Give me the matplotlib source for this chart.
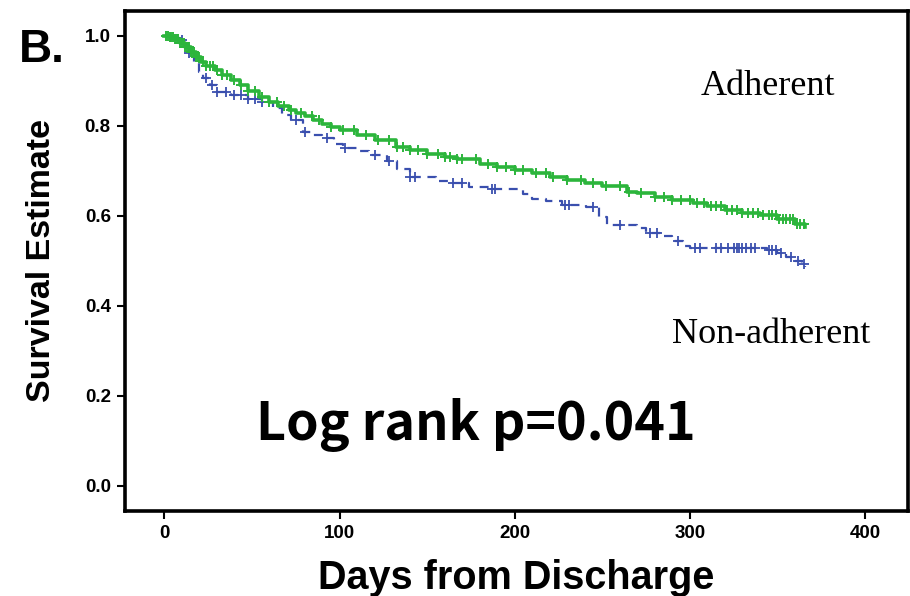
import matplotlib
matplotlib.use("Agg")
import matplotlib.pyplot as plt
import numpy as np

# ---- data ----
adh_t = [0, 3, 6, 9, 12, 15, 18, 21, 24, 29, 33, 38, 43, 48, 54, 60, 65, 71, 75, 80, 85,
         90, 95, 100, 110, 120, 132, 140, 150, 160, 167, 180, 190, 200, 210, 220, 230,
         240, 250, 264, 270, 280, 290, 302, 310, 320, 330, 340, 350, 360, 366]
adh_s = [1.0, 0.998, 0.993, 0.985, 0.975, 0.965, 0.953, 0.943, 0.934, 0.924, 0.913, 0.901,
         0.890, 0.878, 0.864, 0.853, 0.845, 0.836, 0.829, 0.821, 0.813, 0.805, 0.797, 0.790,
         0.779, 0.768, 0.754, 0.746, 0.737, 0.730, 0.727, 0.716, 0.709, 0.702, 0.695, 0.687,
         0.680, 0.674, 0.666, 0.654, 0.650, 0.642, 0.635, 0.628, 0.621, 0.614, 0.607, 0.601,
         0.592, 0.582, 0.576]

non_t = [0, 5, 9, 12, 14, 17, 20, 22, 26, 30, 38, 48, 56, 62, 67, 72, 79, 85, 90, 97, 102,
         110, 117, 127, 133, 140, 155, 165, 174, 187, 205, 210, 218, 227, 241, 248, 253,
         270, 275, 283, 290, 296, 300, 344, 350, 355, 360, 364, 366]
non_s = [1.0, 0.995, 0.99, 0.98, 0.962, 0.94, 0.92, 0.907, 0.89, 0.876, 0.868, 0.86, 0.854,
         0.84, 0.825, 0.813, 0.787, 0.78, 0.773, 0.76, 0.75, 0.745, 0.736, 0.721, 0.705,
         0.686, 0.678, 0.672, 0.665, 0.659, 0.648, 0.638, 0.632, 0.624, 0.619, 0.598, 0.58,
         0.572, 0.563, 0.556, 0.545, 0.532, 0.528, 0.524, 0.518, 0.508, 0.5, 0.492, 0.487]

adh_cens = [1, 2, 3, 4, 5, 6, 7, 8, 9, 10, 11, 12, 13, 14, 15, 16, 17, 18, 19, 20, 22, 24,
            26, 28, 30, 33, 36, 40, 44, 48, 52, 56, 60, 64, 68, 72, 78, 84, 88, 95, 102,
            108, 115, 122, 128, 133, 136, 140, 145, 150, 156, 160, 163, 167, 170, 178, 185,
            190, 195, 200, 205, 212, 218, 222, 230, 238, 245, 252, 260, 265, 272, 280, 285,
            290, 295, 300, 304, 308, 312, 315, 318, 321, 324, 327, 330, 333, 336, 339, 342,
            345, 347, 349, 351, 353, 355, 357, 359, 361, 363, 365]
non_cens = [10, 14, 24, 27, 30, 35, 40, 44, 48, 52, 56, 75, 80, 93, 103, 120, 128, 140, 143,
            165, 170, 187, 189, 229, 231, 245, 260, 277, 281, 293, 303, 306, 315, 318, 322,
            325, 327, 328, 330, 332, 335, 337, 345, 347, 349, 352, 358, 362, 365]

x_ticks = [0, 100, 200, 300, 400]
y_ticks = [0.0, 0.2, 0.4, 0.6, 0.8, 1.0]

GREEN = "#2cb53c"
BLUE = "#3a4fae"


def step_value(times, surv, q):
    idx = np.searchsorted(np.asarray(times), np.asarray(q), side="right") - 1
    return np.asarray(surv)[np.clip(idx, 0, len(surv) - 1)]


fig = plt.figure(figsize=(9.10, 5.96), dpi=100)
ax = fig.add_axes([0.137, 0.1426, 0.861, 0.8394])

ax.plot(non_t, non_s, drawstyle="steps-post", color=BLUE, lw=1.6,
        linestyle=(0, (4, 3)), zorder=2)
ax.plot(non_cens, step_value(non_t, non_s, non_cens), linestyle="none", marker="+",
        color=BLUE, ms=7, mew=1.3, zorder=2)
ax.plot(adh_t, adh_s, drawstyle="steps-post", color=GREEN, lw=2.6, zorder=3)
ax.plot(adh_cens, step_value(adh_t, adh_s, adh_cens), linestyle="none", marker="+",
        color=GREEN, ms=7, mew=1.4, zorder=3)

ax.set_xlim(-22.7, 424.7)
ax.set_ylim(-0.056, 1.056)
ax.set_xticks(x_ticks)
ax.set_yticks(y_ticks)
ax.set_xticklabels([str(v) for v in x_ticks])
ax.set_yticklabels([f"{v:.1f}" for v in y_ticks])

for sp in ax.spines.values():
    sp.set_linewidth(2.6)
    sp.set_color("black")
ax.tick_params(direction="out", length=6, width=1.5, pad=4, colors="black")
for lab in ax.get_xticklabels() + ax.get_yticklabels():
    lab.set_fontfamily("Liberation Sans")
    lab.set_fontweight("bold")
    lab.set_fontsize(13.5)

ax.set_xlabel("Days from Discharge", fontfamily="Liberation Sans", fontweight="bold",
              fontsize=28.5, labelpad=12)
ax.set_ylabel("Survival Estimate", fontfamily="Liberation Sans", fontweight="bold",
              fontsize=24.5, labelpad=20)

fig.text(0.021, 0.896, "B.", fontfamily="Liberation Sans", fontweight="bold", fontsize=33)

ax.text(0.448, 0.142, "Log rank p=0.041", transform=ax.transAxes, ha="center",
        va="baseline", fontfamily="Noto Sans CJK KR", fontweight="bold", fontsize=37.5)
ax.text(0.821, 0.831, "Adherent", transform=ax.transAxes, ha="center", va="baseline",
        fontfamily="Liberation Serif", fontsize=26)
ax.text(0.825, 0.336, "Non-adherent", transform=ax.transAxes, ha="center", va="baseline",
        fontfamily="Liberation Serif", fontsize=26)

fig.savefig("out.png", dpi=100)
